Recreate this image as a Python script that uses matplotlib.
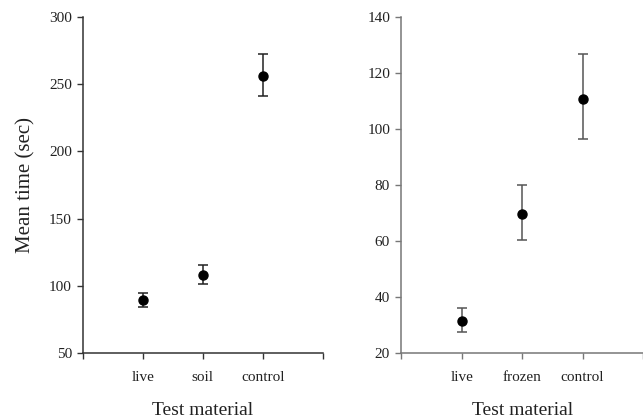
import matplotlib.pyplot as plt

plt.rcParams['font.family'] = ['Liberation Serif', 'DejaVu Serif']

# left panel
left_cats = ["live", "soil", "control"]
left_means = [89.4, 108.2, 256.0]
left_low = [84.0, 101.6, 241.0]
left_high = [94.9, 115.2, 272.7]

# right panel
right_cats = ["live", "frozen", "control"]
right_means = [31.3, 69.5, 110.6]
right_low = [27.3, 60.4, 96.5]
right_high = [36.0, 80.0, 126.9]

fig = plt.figure(figsize=(6.43, 4.19), dpi=100)
ax1 = fig.add_axes([0.129, 0.158, 0.373, 0.801])
ax2 = fig.add_axes([0.624, 0.158, 0.376, 0.801])


def panel(ax, cats, means, low, high, ylim, yticks, color, axcolor):
    x = list(range(1, len(cats) + 1))
    yerr = [[m - lo for m, lo in zip(means, low)],
            [hi - m for m, hi in zip(means, high)]]
    ax.errorbar(x, means, yerr=yerr, fmt="o", color="black", ecolor=color,
                markersize=6.5, capsize=3.5, elinewidth=1.1, capthick=1.1)
    ax.set_xlim(0, 4)
    ax.set_ylim(*ylim)
    ax.set_yticks(yticks)
    ax.set_xticks([0, 1, 2, 3, 4])
    ax.set_xticklabels([""] + cats + [""])
    for side in ("top", "right"):
        ax.spines[side].set_visible(False)
    for side in ("left", "bottom"):
        ax.spines[side].set_color(axcolor)
        ax.spines[side].set_linewidth(1.1)
    ax.tick_params(direction="out", length=4, width=1.0, color=axcolor,
                   labelsize=11, labelcolor="#222222", pad=4)
    ax.tick_params(axis="x", pad=9)
    ax.set_xlabel("Test material", fontsize=14, labelpad=13, color="#222222")


panel(ax1, left_cats, left_means, left_low, left_high, (50, 300),
      [50, 100, 150, 200, 250, 300], "#222222", "#333333")
panel(ax2, right_cats, right_means, right_low, right_high, (20, 140),
      [20, 40, 60, 80, 100, 120, 140], "#555555", "#777777")
ax1.set_ylabel("Mean time (sec)", fontsize=15, labelpad=10, color="#222222")

fig.savefig("out.png", dpi=100)
